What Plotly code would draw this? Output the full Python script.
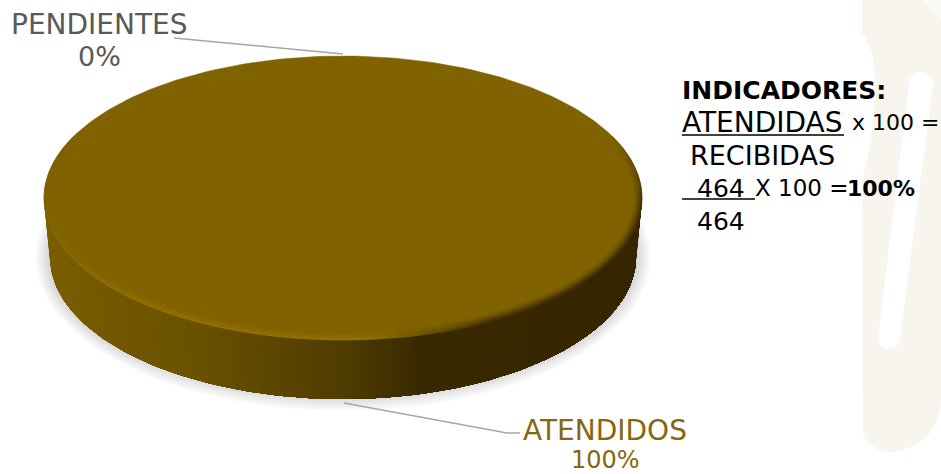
import numpy as np
import plotly.graph_objects as go

labels = ["ATENDIDOS", "PENDIENTES"]
values = [100, 0]
received = 464
attended = 464

W, H = 941, 474
CX, CY, RX, RY, DEPTH = 343, 198, 299, 142, 59
BOTTOM_RX = 293
TOP = "#806200"
FONT = "DejaVu Sans"


def hex2rgb(h):
    return np.array([int(h[i:i + 2], 16) for i in (1, 3, 5)], float)


def mix(a, b, t):
    c = hex2rgb(a) * (1 - t) + hex2rgb(b) * t
    return "#%02x%02x%02x" % tuple(int(v) for v in c)


def side_color(t):
    xs = [0.0, 0.25, 0.5, 0.62, 1.0]
    cs = ["#7a5e00", "#6a5100", "#4f3c00", "#3a2a00", "#352600"]
    for i in range(len(xs) - 1):
        if t <= xs[i + 1]:
            return mix(cs[i], cs[i + 1], (t - xs[i]) / (xs[i + 1] - xs[i]))
    return cs[-1]


fig = go.Figure()


def poly(x, y, color, width=0.0, shape="linear"):
    fig.add_trace(go.Scatter(x=x, y=y, mode="lines", fill="toself", fillcolor=color,
                             line=dict(width=width, color=color, shape=shape), hoverinfo="skip",
                             showlegend=False))


# watermark
t = np.linspace(0, np.pi / 2, 24)
wx = np.r_[862, 862, 862 + 28 * (1 - np.cos(t)), 890 + 51 * np.sin(t), 941]
wy = np.r_[0, 425, 425 + 27 * np.sin(t), 452 - 52 * (1 - np.cos(t)), 0]
poly(wx, wy, "#f8f5ee")
poly([922, 941, 941], [0, 0, 20], "#fcfaf6")
poly([862, 869, 874, 875, 872, 866, 862], [33, 45, 65, 90, 130, 165, 178], "#ffffff", shape="spline")
t = np.linspace(0, np.pi, 24)
sx = np.r_[921 + 12 * np.cos(t), 889 - 11 * np.cos(t)]
sy = np.r_[84 - 12 * np.sin(t), 338 + 11 * np.sin(t)]
poly(sx, sy, "#ffffff")

# shadow
circ = np.linspace(0, 2 * np.pi, 160)
for i in range(14):
    g = i / 13
    poly(CX + (RX + 9 - 14 * g) * np.cos(circ),
         CY + DEPTH + (RY + 12 - 14 * g) * np.sin(circ),
         "rgba(110,110,110,0.022)")

# slice geometry comes from the data
total = sum(values)
sweep = 2 * np.pi * values[0] / total
angles = np.linspace(np.pi, 0, 130)
if sweep < np.pi:
    angles = angles[angles < sweep]
# each step paints from its left edge to the far right, so no seams show
for i in range(len(angles) - 1):
    a = angles[i:]
    x_top = CX + RX * np.cos(a)
    y_top = CY + RY * np.sin(a)
    x_bot = CX + BOTTOM_RX * np.cos(a)
    y_bot = CY + DEPTH + RY * np.sin(a)
    u = (np.cos(a[0]) + 1) / 2
    poly(np.r_[x_top, x_bot[::-1]], np.r_[y_top, y_bot[::-1]], side_color(u))

# top
th = np.linspace(0, 2 * np.pi, 300)
poly(CX + RX * np.cos(th), CY + RY * np.sin(th), TOP, 0.5)

# bevel on the rim
RINGS = 8
rim = np.linspace(np.pi + 0.45, -0.45, 100)
for k in range(RINGS):
    ins = k * 1.0 + 0.5
    fade = k / RINGS
    for a0, a1 in zip(rim[:-1], rim[1:]):
        a = np.array([a0, a1])
        m = (a0 + a1) / 2
        u = np.cos(m) / 2 + 0.5
        s = np.sin(m)
        if u < 0.55:
            edge = mix("#7f6200", "#957400", min(1, max(0, s) * 1.3))
        else:
            edge = mix("#917000", "#3a2a00", min(1, (u - 0.55) / 0.2))
        w = min(1, max(0, (s + 0.43) / 0.5))
        col = mix(TOP, edge, w * (1 - fade ** 0.8))
        fig.add_trace(go.Scatter(x=CX + (RX - ins) * np.cos(a), y=CY + (RY - ins) * np.sin(a),
                                 mode="lines", line=dict(color=col, width=1.6),
                                 hoverinfo="skip", showlegend=False))


def seg(x, y, color, width):
    fig.add_trace(go.Scatter(x=x, y=y, mode="lines", line=dict(color=color, width=width),
                             hoverinfo="skip", showlegend=False))


# leader lines
seg([174, 343], [38, 54], "#a6a6a6", 1.4)
seg([344, 507, 520], [403, 433, 433], "#a6a6a6", 1.4)
# fraction rules
seg([682, 844], [135, 135], "#000000", 1.5)
seg([682, 755], [199, 199], "#000000", 1.5)


def label(x, y, text, color="#000000", size=23, anchor="left"):
    fig.add_annotation(x=x, y=y, text=text, xref="x", yref="y", showarrow=False, xanchor=anchor,
                       yanchor="middle", align=anchor,
                       font=dict(family=FONT, size=size, color=color))


pct = [round(100 * v / total) for v in values]
label(99, 24, labels[1], "#595959", 28, "center")
label(99, 56, f"{pct[1]}%", "#595959", 27, "center")
label(605, 430, labels[0], "#85680c", 28, "center")
label(605, 460, f"{pct[0]}%", "#85680c", 24, "center")

label(680, 90, "<b>INDICADORES:</b>", size=25)
label(680, 122, "ATENDIDAS", size=28)
label(850, 122, "x 100 =", size=22)
label(688, 155, "RECIBIDAS", size=27)
label(695, 188, f"{attended}", size=25)
label(753, 188, "X 100 =", size=23)
label(845, 188, f"<b>{pct[0]}%</b>", size=22)
label(695, 221, f"{received}", size=25)

fig.update_layout(width=W, height=H, margin=dict(l=0, r=0, t=0, b=0), paper_bgcolor="white",
                  plot_bgcolor="white", showlegend=False,
                  xaxis=dict(range=[0, W], visible=False, fixedrange=True),
                  yaxis=dict(range=[H, 0], visible=False, fixedrange=True))
fig.write_html("out.html", config={"displayModeBar": False},
               post_script="document.body.style.margin='0';document.body.style.overflow='hidden';")
